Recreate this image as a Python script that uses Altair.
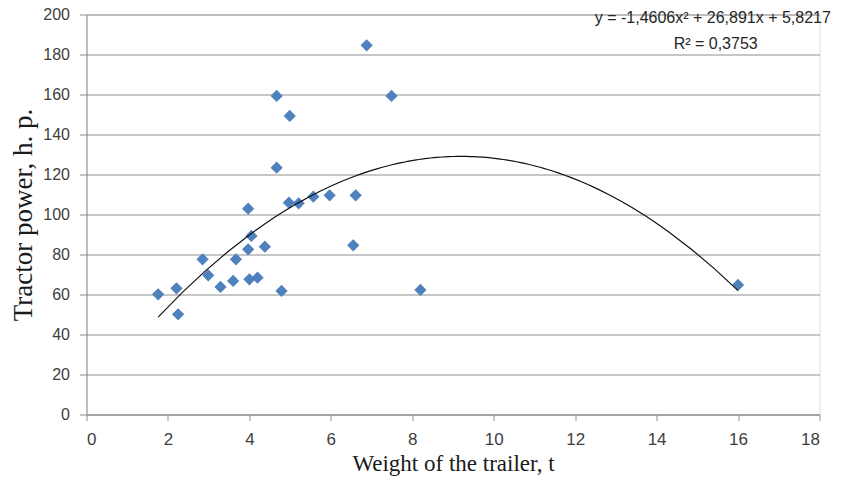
import altair as alt
import pandas as pd

# Weight of the trailer, t
weight = [1.76, 2.21, 2.25, 2.85, 2.99, 3.29, 3.60, 3.67, 3.97, 4.05, 3.97, 4.38,
          4.00, 4.20, 4.79, 4.67, 4.99, 4.67, 4.97, 5.21, 5.57, 5.97, 6.61, 6.55,
          7.49, 6.88, 8.20, 16.0]
# Tractor power, h. p.
power = [60.1, 63.1, 50.1, 77.6, 69.6, 63.8, 66.8, 77.6, 102.9, 89.3, 82.6, 83.9,
         67.6, 68.4, 61.8, 159.3, 149.3, 123.4, 105.9, 105.6, 108.9, 109.6, 109.6, 84.6,
         159.3, 184.6, 62.3, 64.8]

x_ticks = [0, 2, 4, 6, 8, 10, 12, 14, 16, 18]
y_ticks = [0, 20, 40, 60, 80, 100, 120, 140, 160, 180, 200]

eq_text = ["y = -1,4606x² + 26,891x + 5,8217", "R² = 0,3753"]
eq_x = [15.38, 15.45]
eq_y = [198.3, 185.3]

df = pd.DataFrame({"w": weight, "p": power})
ann = pd.DataFrame({"t": eq_text, "x": eq_x, "y": eq_y})

grid_color = "#8e8e8e"
label_color = "#404040"

xscale = alt.Scale(domain=[0, 18], nice=False, zero=False)
yscale = alt.Scale(domain=[0, 200], nice=False)

xaxis = alt.Axis(values=x_ticks, grid=False, domainColor=grid_color, tickColor=grid_color,
                 tickSize=6, labelPadding=11, labelFont="Liberation Sans", labelFontSize=17,
                 labelColor=label_color, labelOverlap=False, title="Weight of the trailer, t",
                 titleFont="Liberation Serif", titleFontSize=23, titleFontWeight="normal",
                 titleColor="#1a1a1a", titlePadding=5)
yaxis = alt.Axis(values=y_ticks, grid=True, gridColor=grid_color, gridWidth=1,
                 domainColor=grid_color, tickColor=grid_color, tickSize=7, labelPadding=10,
                 labelFont="Liberation Sans", labelFontSize=16, labelColor=label_color,
                 labelOverlap=False, title="Tractor power, h. p.", titleFont="Liberation Serif",
                 titleFontSize=27, titleFontWeight="normal", titleColor="#1a1a1a",
                 titlePadding=5)

X = alt.X("w:Q", scale=xscale, axis=xaxis)
Y = alt.Y("p:Q", scale=yscale, axis=yaxis)

points = alt.Chart(df).mark_point(shape="diamond", filled=True, size=150,
                                  color="#4f81bd", opacity=1).encode(x=X, y=Y)

trend = alt.Chart(df).transform_regression(
    "w", "p", method="poly", order=2, extent=[1.76, 16.0]
).mark_line(color="#111111", strokeWidth=1.2).encode(x=X, y=Y)

text = alt.Chart(ann).mark_text(font="Liberation Sans", fontSize=16, color="#262626",
                                align="center", baseline="middle").encode(
    x=alt.X("x:Q", scale=xscale, axis=xaxis),
    y=alt.Y("y:Q", scale=yscale, axis=yaxis),
    text="t:N",
)

chart = alt.layer(points, trend, text).properties(
    width=733, height=400,
    autosize=alt.AutoSizeParams(type="none"),
    padding={"left": 78.5, "top": 6.5, "right": 19.5, "bottom": 62.5},
).configure_view(stroke=None).configure(background="white")

chart.save("out.html", embed_options={"renderer": "svg", "actions": False})
